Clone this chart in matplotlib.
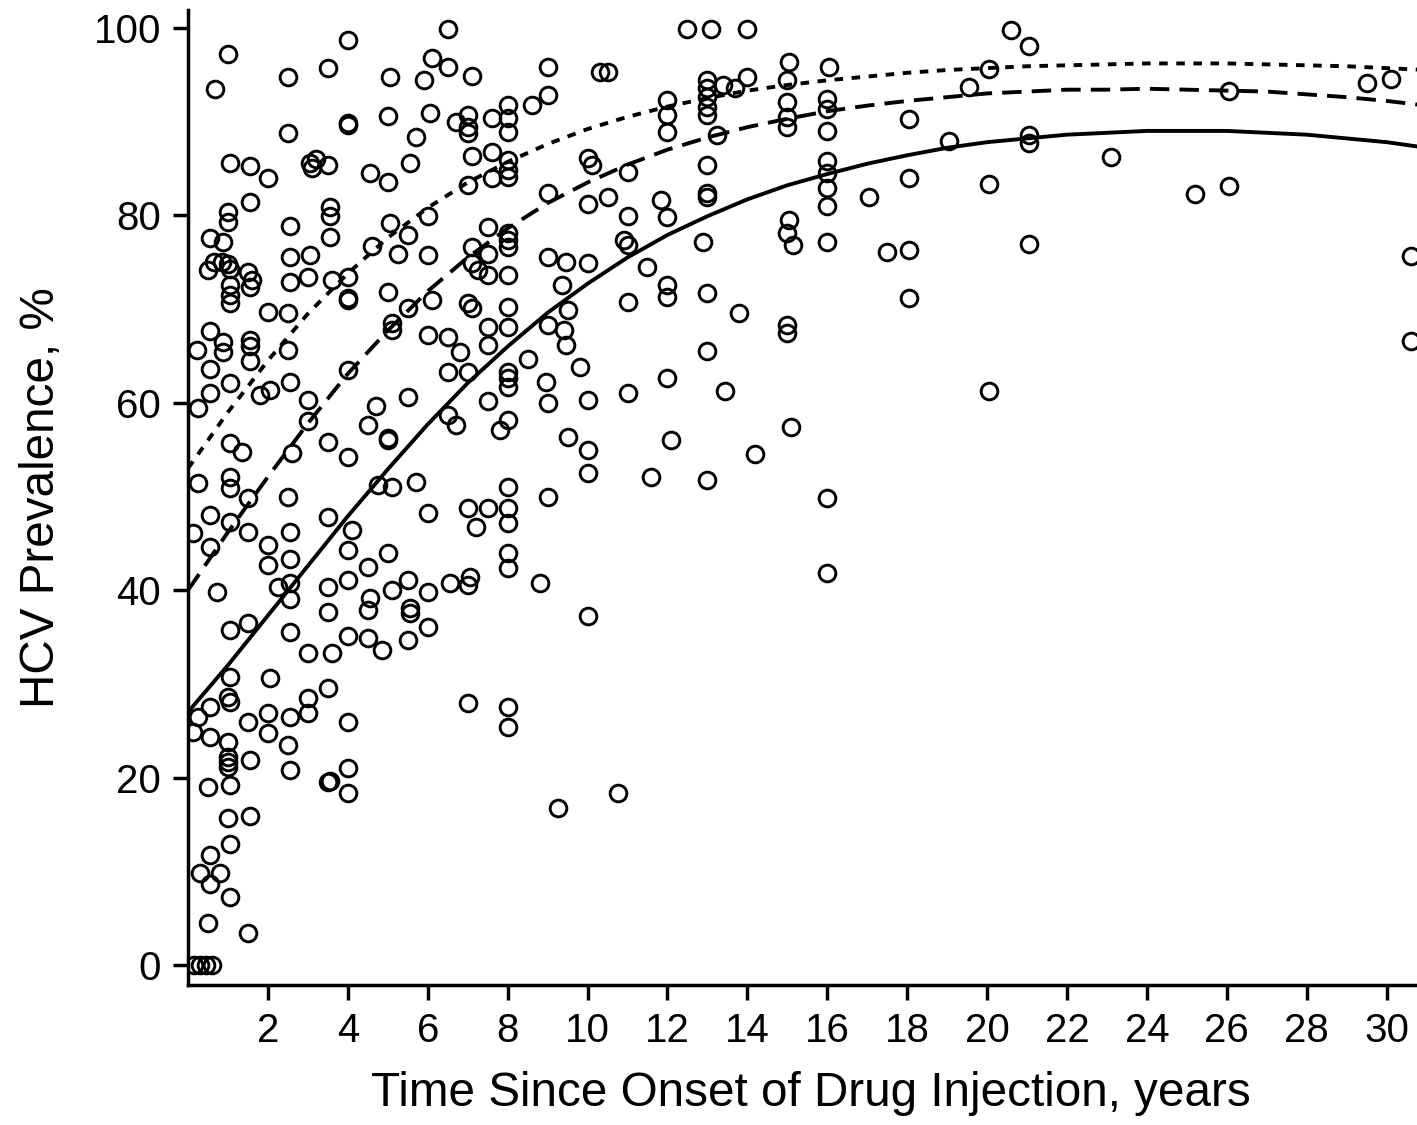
import matplotlib
matplotlib.use("Agg")
import matplotlib.pyplot as plt

# study-level points: years since onset of injection, HCV prevalence (%)
years = [
    1.0, 0.68, 2.5, 3.5, 4.0, 6.5, 6.1, 6.5, 7.1, 5.05, 5.9,
    2.5, 4.0, 4.0, 5.0, 6.05, 6.7, 7.0, 7.0, 7.0, 5.7, 7.1, 5.55, 1.05, 1.55, 2.0,
    3.05, 3.2, 3.1, 3.5, 4.55, 5.0, 7.0, 1.55, 1.0, 1.0, 2.55, 3.55, 3.55, 3.55,
    5.05, 6.0, 5.5, 4.6, 5.25, 6.0, 0.55, 0.88, 0.5, 0.65, 0.85, 1.0, 1.05, 1.5,
    1.6, 1.55, 1.05, 1.05, 1.05, 2.55, 3.05, 2.55, 3.0, 3.6, 4.0, 4.0, 4.0, 5.0,
    2.0, 2.5, 6.1, 5.5, 5.1, 5.1, 0.55, 6.0, 6.5,
    0.88, 0.88, 1.55, 1.55, 1.55, 0.22, 2.5, 6.8, 0.55, 1.05, 2.55, 1.8, 2.05,
    0.55, 0.25, 4.0, 3.0, 3.0, 6.5, 7.0, 5.5, 4.7, 4.5, 5.0, 5.0, 3.5, 4.0, 6.5,
    6.7, 1.05, 1.35, 2.6, 0.25, 1.05, 1.05, 1.5, 2.5, 4.75, 5.1, 5.7, 0.55, 1.05,
    1.5, 2.55, 3.5, 4.1, 0.12, 6.0, 7.0, 7.2, 0.55, 2.0, 4.0, 5.0, 2.0, 2.55, 4.5,
    4.0, 3.5, 2.25, 2.55, 2.55, 4.55, 4.5, 5.1, 5.5, 6.0, 6.55, 7.05, 7.0, 0.72,
    3.5, 5.55, 5.55, 6.0, 1.05, 1.5, 2.55, 4.0, 4.5, 4.85, 5.5, 3.0, 3.6,
    1.05, 2.05, 3.5, 3.0, 1.0, 1.05, 0.55, 0.25, 0.12, 2.0, 2.55, 3.0, 1.5, 4.0,
    2.0, 0.55, 1.0, 2.5, 1.0, 1.0, 1.0, 1.55, 2.55, 4.0, 3.5, 3.55, 4.0, 0.5, 1.05,
    1.0, 1.55, 1.05, 0.55, 0.3, 0.8, 0.55, 1.05, 0.5, 1.5, 0.15, 0.3, 0.45, 0.6, 7.0,
    12.5, 13.1, 14.0, 9.0, 10.3, 10.5, 9.0, 8.6, 7.6, 8.0, 8.0, 8.0, 12.0, 12.0,
    12.0, 13.0, 13.0, 13.0, 13.0, 13.0, 13.4, 13.7, 14.0, 15.05, 15.0, 15.0, 15.0,
    15.0, 13.25, 7.6, 8.0, 8.0, 8.0, 7.6, 10.0, 10.1, 11.0, 13.0, 9.0, 10.0, 10.5,
    11.85, 12.0, 13.0, 13.0, 11.0, 15.05, 15.0, 15.15, 7.5, 8.0, 8.0, 8.0, 7.1,
    7.5, 7.1, 7.25, 7.5, 8.0, 10.9, 11.0, 12.9, 9.0, 9.45, 10.0, 11.5, 9.35, 12.0,
    12.0, 13.0, 11.0, 13.8, 7.0, 7.1, 8.0, 15.0, 15.0, 7.5, 8.0, 9.0, 9.4, 9.5,
    7.5, 8.0, 8.0, 8.0, 8.5, 9.45, 9.8, 8.95, 9.0, 10.0, 7.5, 11.0, 12.0, 13.0,
    13.45, 15.1, 14.2, 12.1, 8.0, 7.8, 9.5, 10.0, 10.0, 11.6, 13.0, 8.0, 9.0, 7.5,
    8.0, 8.0, 8.0, 8.0, 8.8, 10.0, 8.0, 8.0, 9.25, 10.75,
    16.05, 16.0, 16.0, 16.0, 16.0, 16.0, 16.0, 16.0, 16.0, 18.05, 18.05, 17.05,
    17.5, 18.05, 18.05, 19.05, 19.55, 20.05, 20.05, 20.05, 20.6, 21.05, 21.05,
    21.05, 21.05, 23.1, 25.2, 26.05, 26.05, 29.5, 30.1, 30.6, 30.6, 16.0, 16.0,
]
prevalence = [
    97.2, 93.5, 94.7, 95.7, 98.7, 99.9, 96.8, 95.8, 94.9, 94.8, 94.4,
    88.8, 89.6, 89.8, 90.6, 90.9, 89.9, 90.7, 89.4, 88.8, 88.4, 86.3, 85.6, 85.6,
    85.3, 84.0, 85.6, 86.0, 85.0, 85.4, 84.5, 83.6, 83.2, 81.4, 80.4, 79.3, 78.9,
    80.9, 79.9, 77.7, 79.2, 79.9, 77.9, 76.7, 75.9, 75.8, 77.6, 77.2, 74.2, 75.0,
    75.0, 74.8, 74.3, 74.0, 73.1, 72.3, 72.6, 71.5, 70.6, 75.6, 75.8, 72.9, 73.4,
    73.1, 73.4, 71.2, 71.0, 71.8, 69.7, 69.6, 71.0, 70.1, 67.8, 68.5, 67.6, 67.2,
    67.0,
    66.5, 65.4, 66.7, 66.0, 64.4, 65.6, 65.6, 65.4, 63.6, 62.1, 62.2, 60.8, 61.4,
    61.0, 59.4, 63.5, 60.3, 58.0, 63.3, 63.3, 60.6, 59.6, 57.6, 56.0, 56.2, 55.8,
    54.2, 58.7, 57.6, 55.7, 54.7, 54.6, 51.4, 52.1, 50.9, 49.8, 49.9, 51.2, 51.0,
    51.5, 48.0, 47.3, 46.2, 46.2, 47.8, 46.4, 46.1, 48.2, 48.8, 46.7, 44.6, 44.8,
    44.3, 44.0, 42.7, 43.3, 42.5, 41.1, 40.3, 40.3, 40.8, 39.1, 39.2, 37.9, 40.0,
    41.1, 39.8, 40.8, 41.4, 40.6, 39.8, 37.7, 38.1, 37.6, 36.1, 35.8, 36.5, 35.5,
    35.1, 34.9, 33.6, 34.7, 33.3, 33.3,
    30.7, 30.6, 29.6, 28.5, 28.6, 28.1, 27.5, 26.5, 24.9, 26.9, 26.5, 26.9, 25.9,
    25.9, 24.8, 24.3, 23.8, 23.5, 22.2, 21.7, 21.1, 21.9, 20.8, 21.0, 19.5, 19.6,
    18.4, 19.0, 19.2, 15.7, 15.9, 12.9, 11.7, 9.8, 9.8, 8.7, 7.3, 4.5, 3.4, 0.0,
    0.0, 0.0, 0.0, 28.0,
    99.9, 99.9, 99.9, 95.8, 95.3, 95.3, 92.8, 91.8, 90.4, 91.8, 90.4, 88.9, 92.3,
    90.7, 88.9, 94.4, 93.6, 92.6, 91.6, 90.7, 93.9, 93.6, 94.7, 96.3, 94.4, 92.1,
    90.5, 89.4, 88.6, 86.8, 85.9, 84.8, 84.1, 84.0, 86.1, 85.4, 84.6, 85.4, 82.4,
    81.2, 82.0, 81.6, 79.8, 82.4, 81.9, 79.9, 79.5, 78.1, 76.8, 78.8, 78.1, 77.4,
    76.6, 76.6, 75.9, 74.9, 74.2, 73.6, 73.6, 77.4, 76.8, 77.1, 75.5, 75.0, 74.9,
    74.5, 72.6, 72.6, 71.3, 71.7, 70.8, 69.6, 70.6, 70.1, 70.2, 68.3, 67.4, 68.1,
    68.1, 68.3, 67.8, 69.9,
    66.2, 63.3, 62.6, 61.7, 64.7, 66.2, 63.8, 62.2, 60.0, 60.3, 60.2, 61.0, 62.6,
    65.5, 61.3, 57.4, 54.5, 56.0, 58.2, 57.1, 56.3, 55.0, 52.5, 52.1, 51.8, 51.0,
    49.9, 48.8, 48.8, 47.2, 44.0, 42.4, 40.8, 37.2, 27.5, 25.4, 16.8, 18.4,
    95.8, 92.4, 91.3, 89.0, 85.8, 84.5, 82.9, 81.0, 77.2, 90.3, 84.0, 82.0, 76.1,
    76.3, 71.2, 87.9, 93.7, 95.6, 83.3, 61.3, 99.8, 98.1, 88.6, 87.7, 76.9, 86.2,
    82.3, 83.1, 93.3, 94.1, 94.5, 75.7, 66.6, 49.8, 41.8,
]

# fitted curves, one value per year
curve_years = list(range(32))
fit_solid = [27.0, 32.0, 37.3, 42.6, 47.9, 52.9, 57.7, 62.1, 66.0, 69.6, 72.7,
             75.5, 77.9, 79.9, 81.7, 83.2, 84.4, 85.5, 86.4, 87.2, 87.8, 88.2,
             88.6, 88.8, 89.0, 89.0, 89.0, 88.8, 88.6, 88.2, 87.8, 87.2]
fit_dashed = [40.0, 46.2, 52.1, 57.8, 63.1, 67.7, 71.9, 75.5, 78.6, 81.3, 83.5,
              85.4, 87.0, 88.3, 89.4, 90.3, 91.1, 91.7, 92.2, 92.6, 93.0, 93.2,
              93.4, 93.4, 93.5, 93.4, 93.3, 93.2, 92.9, 92.6, 92.2, 91.7]
fit_dotted = [53.0, 59.0, 64.5, 69.5, 73.8, 77.6, 80.8, 83.5, 85.7, 87.6, 89.2,
              90.5, 91.6, 92.5, 93.3, 93.9, 94.4, 94.8, 95.2, 95.5, 95.7, 95.9,
              96.0, 96.1, 96.2, 96.2, 96.2, 96.1, 96.0, 95.9, 95.7, 95.5]

x_ticks = list(range(2, 31, 2))
y_ticks = [0, 20, 40, 60, 80, 100]

plt.rcParams['font.family'] = ['Liberation Sans', 'DejaVu Sans']

fig = plt.figure(figsize=(14.17, 11.25), dpi=100)
ax = fig.add_axes([0.1327, 0.1244, 0.8673, 0.8667])

ax.plot(years, prevalence, linestyle='none', marker='o', markersize=12,
        markerfacecolor='none', markeredgecolor='black', markeredgewidth=2.1,
        zorder=3)

lw = 2.8
ax.plot(curve_years, fit_solid, color='black', linewidth=lw, zorder=2)
ax.plot(curve_years, fit_dashed, color='black', linewidth=lw,
        dashes=(5, 2.6), zorder=2)
ax.plot(curve_years, fit_dotted, color='black', linewidth=lw,
        dashes=(2.2, 2.2), zorder=2)

ax.set_xlim(0, 30.76)
ax.set_ylim(-2.13, 101.9)
ax.set_xticks(x_ticks)
ax.set_yticks(y_ticks)

for side in ['top', 'right']:
    ax.spines[side].set_visible(False)
for side in ['left', 'bottom']:
    ax.spines[side].set_linewidth(2.5)

ax.tick_params(axis='both', direction='out', length=10.5, width=2.5,
               labelsize=29, pad=9, colors='black')

ax.set_xlabel('Time Since Onset of Drug Injection, years', fontsize=34.3)
ax.set_ylabel('HCV Prevalence, %', fontsize=34.3, labelpad=21)
ax.xaxis.set_label_coords(0.507, -0.088)

fig.savefig('out.png', dpi=100)
